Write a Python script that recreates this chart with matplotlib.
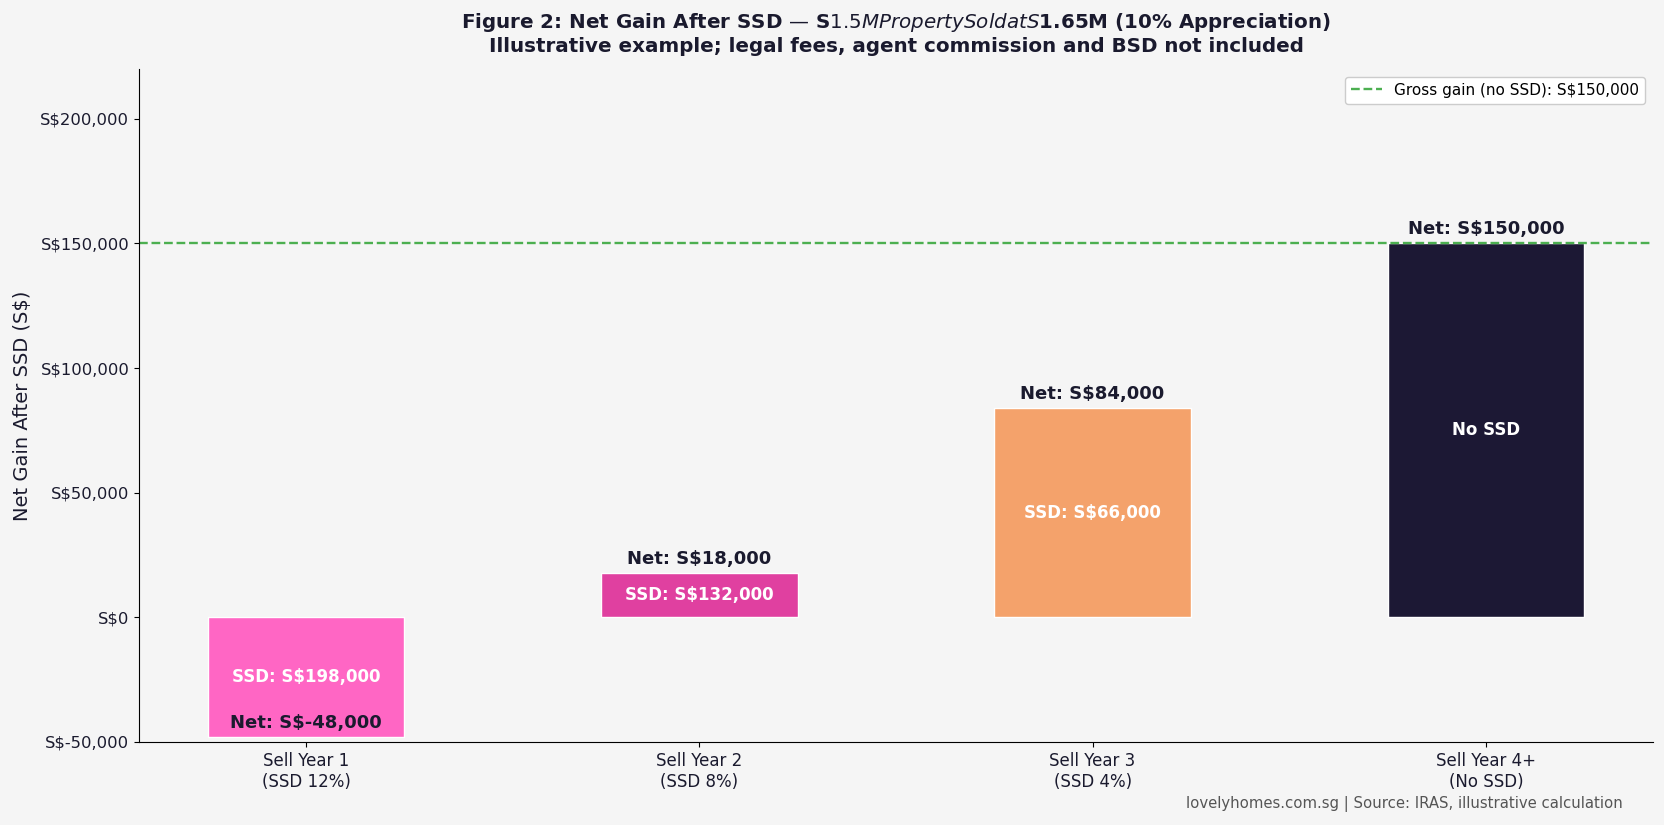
import matplotlib as mpl
import matplotlib.pyplot as plt
from matplotlib.ticker import FuncFormatter

mpl.use('Agg')

categories = ["Sell Year 1\n(SSD 12%)", "Sell Year 2\n(SSD 8%)",
              "Sell Year 3\n(SSD 4%)", "Sell Year 4+\n(No SSD)"]
net_gain = [-48000, 18000, 84000, 150000]
ssd_paid = [198000, 132000, 66000, 0]
gross_gain = 150000
bar_colors = ["#FF66C4", "#E040A0", "#F4A26B", "#1C1834"]

BG = "#F5F5F5"
INK = "#1A1A2E"

W, H = 1665, 825
fig = plt.figure(figsize=(W / 100, H / 100), dpi=100, facecolor=BG)
ax = fig.add_axes([139 / W, (H - 742) / H, (1653 - 139) / W, (742 - 69) / H])
ax.set_facecolor(BG)

xs = range(len(categories))
ax.bar(xs, net_gain, width=0.5, color=bar_colors, edgecolor="white", linewidth=1)

for x, net, ssd in zip(xs, net_gain, ssd_paid):
    ax.text(x, net + 2000, f"Net: S${net:,}", ha="center", va="bottom",
            fontsize=13, fontweight="bold", color=INK)
    label = f"SSD: S${ssd:,}" if ssd else "No SSD"
    ax.text(x, net / 2, label, ha="center", va="center",
            fontsize=12, fontweight="bold", color="white")

ax.axhline(gross_gain, color="#4CAF50", linestyle="--", linewidth=1.7,
           label=f"Gross gain (no SSD): S${gross_gain:,}")

ax.set_ylim(-50000, 220000)
ax.set_xticks(list(xs))
ax.set_xticklabels(categories, fontsize=12, color=INK)
ax.yaxis.set_major_formatter(FuncFormatter(lambda v, p: f"S${int(v):,}"))
ax.tick_params(axis="y", labelsize=11.8, labelcolor=INK)
ax.set_ylabel("Net Gain After SSD (S$)", fontsize=14, color=INK, labelpad=6)
for side in ("top", "right"):
    ax.spines[side].set_visible(False)

ax.set_title("Figure 2: Net Gain After SSD — S$1.5M Property Sold at S$1.65M (10% Appreciation)\n"
             "Illustrative example; legal fees, agent commission and BSD not included",
             fontsize=14.3, fontweight="bold", color=INK, pad=12)
ax.legend(loc="upper right", fontsize=11, facecolor="white", framealpha=1)

fig.text(1623 / W, 1 - 804 / H, "lovelyhomes.com.sg | Source: IRAS, illustrative calculation",
         ha="right", va="center", fontsize=10.7, color="#555555")

fig.savefig("out.png", facecolor=BG)
